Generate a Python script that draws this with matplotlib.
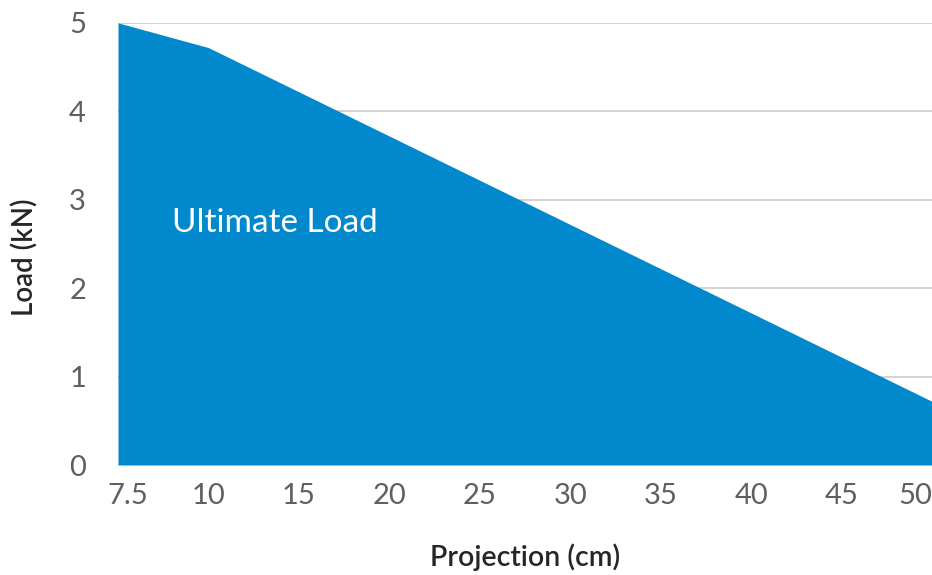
import matplotlib.pyplot as plt
import matplotlib.transforms as mtransforms
import numpy as np

plt.rcParams['font.family'] = ['Lato', 'DejaVu Sans']

# projection categories (cm) and ultimate load (kN)
projection = ["7.5", "10", "15", "20", "25", "30", "35", "40", "45", "50"]
load = [5.0, 4.72, 4.22, 3.72, 3.22, 2.72, 2.22, 1.72, 1.22, 0.72]
y_ticks = [0, 1, 2, 3, 4, 5]

fig = plt.figure(figsize=(9.32, 5.75), dpi=100)
ax = fig.add_axes([0.1266, 0.1913, 0.8734, 0.769])

x = np.arange(len(projection))
ax.fill_between(x, load, 0, color="#0288cc", linewidth=0, zorder=2)

ax.set_xlim(0, len(projection) - 1)
ax.set_ylim(0, 5)
ax.set_xticks(x)
ax.set_xticklabels(projection)
ax.set_yticks(y_ticks)

ax.grid(axis="y", color="#d0d0d0", linewidth=1.3, zorder=0)
ax.set_axisbelow(True)
for s in ax.spines.values():
    s.set_visible(False)

ax.tick_params(axis="both", length=0, labelsize=21, labelcolor="#5f5f5f")
ax.tick_params(axis="x", pad=13)
ax.tick_params(axis="y", pad=23)

# keep end labels inside the plot like the original
labels = ax.get_xticklabels()
labels[0].set_transform(labels[0].get_transform() +
                        mtransforms.ScaledTranslation(0.1, 0, fig.dpi_scale_trans))
labels[-1].set_ha("right")

ax.set_xlabel("Projection (cm)", fontsize=20.5, fontweight="semibold",
              color="#262626", labelpad=25)
ax.set_ylabel("Load (kN)", fontsize=20, fontweight="semibold",
              color="#262626")
ax.yaxis.set_label_coords(-0.098, 0.47)

ax.text(0.6, 2.74, "Ultimate Load", color="white", fontsize=24,
        ha="left", va="center", zorder=3)

fig.savefig("out.png", dpi=100)
